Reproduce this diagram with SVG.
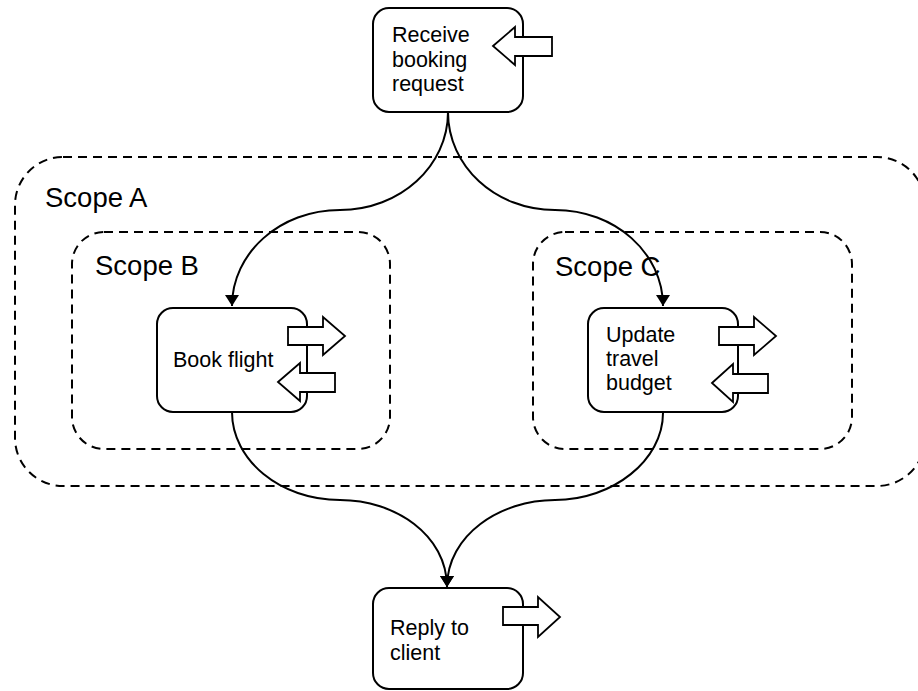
<svg xmlns="http://www.w3.org/2000/svg" width="918" height="691" viewBox="0 0 918 691">
<defs>
<style>
.scope{fill:none;stroke:#000;stroke-width:2;stroke-dasharray:9 6}
.box{fill:#fff;stroke:#000;stroke-width:2}
.blk{fill:#fff;stroke:#000;stroke-width:1.8;stroke-linejoin:miter}
.conn{fill:none;stroke:#000;stroke-width:2}
.t{font-family:"Liberation Sans",Arial,sans-serif;font-size:21.5px;fill:#000}
.st{font-family:"Liberation Sans",Arial,sans-serif;font-size:27.5px;fill:#000}
</style>
<marker id="ah" viewBox="0 0 11 14" refX="11" refY="7" markerWidth="11" markerHeight="14" markerUnits="userSpaceOnUse" orient="auto">
<path d="M0,0 L11,7 L0,14 z" fill="#000"/>
</marker>
</defs>
<rect width="918" height="691" fill="#fff"/>
<g id="scopeA">
<rect class="scope" x="15" y="157" width="910" height="329" rx="48"/>
<text class="st" x="45" y="207">Scope A</text>
</g>
<g id="scopeB">
<rect class="scope" x="72" y="232" width="318" height="217" rx="32"/>
<text class="st" x="95" y="275">Scope B</text>
</g>
<g id="scopeC">
<rect class="scope" x="533" y="232" width="319" height="217" rx="32"/>
<text class="st" x="555" y="276">Scope C</text>
</g>
<g id="connectors">
<path class="conn" marker-end="url(#ah)" d="M448 112 C448 166,400 210,340 210 C280 210,232 253,232 306"/>
<path class="conn" marker-end="url(#ah)" d="M448 112 C448 166,495 210,555 210 C615 210,663 253,663 306"/>
<path class="conn" marker-end="url(#ah)" d="M232 412 C232 460,280 500,340 500 C395 500,447 535,447 587"/>
<path class="conn" marker-end="url(#ah)" d="M663 413 C663 460,613 500,555 500 C500 500,447 535,447 587"/>
</g>
<g id="receive">
<rect class="box" x="373" y="8" width="150" height="104" rx="16"/>
<polygon class="blk" points="493,46 515,27 515,37 552,37 552,56 515,56 515,65"/>
<text class="t" x="392" y="42">Receive</text>
<text class="t" x="392" y="66.5">booking</text>
<text class="t" x="392" y="91">request</text>
</g>
<g id="bookflight">
<rect class="box" x="157" y="308" width="150" height="104" rx="16"/>
<polygon class="blk" points="288,327 323,327 323,317 345,336 323,355 323,345 288,345"/>
<polygon class="blk" points="278,382 300,363 300,373 335,373 335,392 300,392 300,401"/>
<text class="t" x="173" y="367">Book flight</text>
</g>
<g id="updatebudget">
<rect class="box" x="588" y="308" width="150" height="104" rx="16"/>
<polygon class="blk" points="719,327 754,327 754,317 776,336 754,355 754,345 719,345"/>
<polygon class="blk" points="712,383 733,364 733,374 768,374 768,393 733,393 733,402"/>
<text class="t" x="606" y="342">Update</text>
<text class="t" x="606" y="366">travel</text>
<text class="t" x="606" y="390">budget</text>
</g>
<g id="reply">
<rect class="box" x="373" y="588" width="150" height="101" rx="16"/>
<polygon class="blk" points="503,607 538,607 538,597 560,617 538,637 538,625 503,625"/>
<text class="t" x="390" y="635">Reply to</text>
<text class="t" x="390" y="660">client</text>
</g>
</svg>
